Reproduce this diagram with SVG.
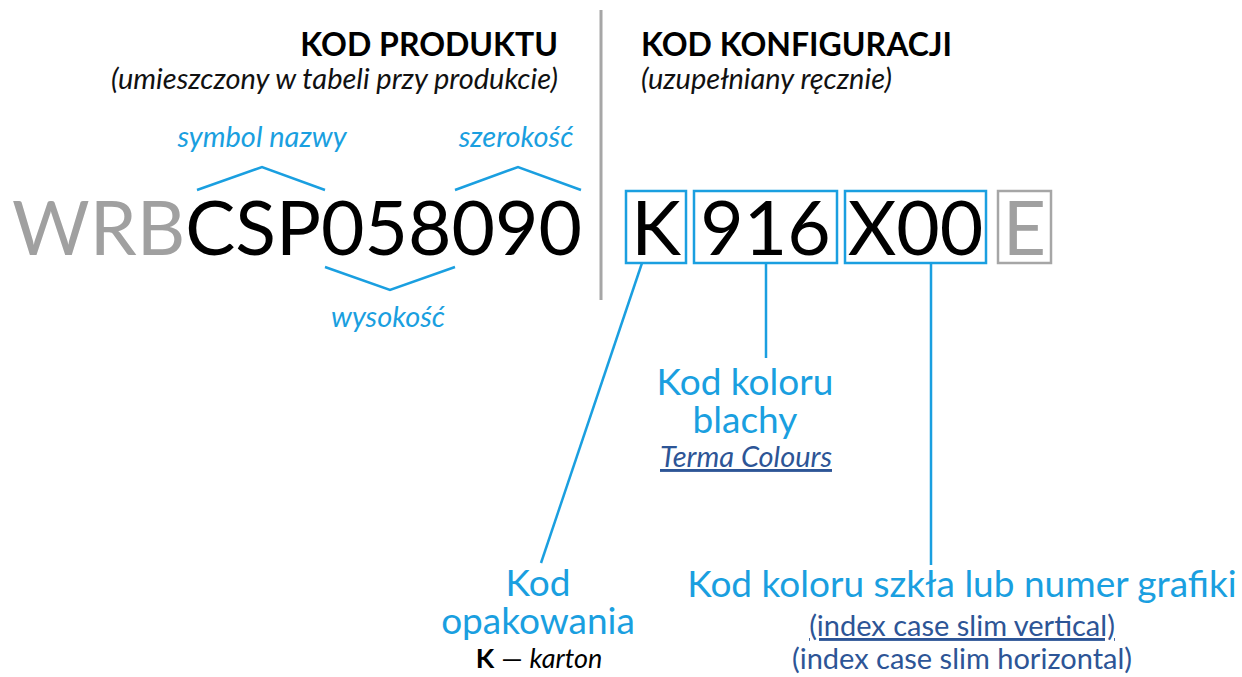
<svg xmlns="http://www.w3.org/2000/svg" width="1242" height="677" viewBox="0 0 1242 677">
<style>
text{font-family:Lato,"Open Sans","Liberation Sans",sans-serif}
.h{font-weight:700;font-size:32px;fill:#000}
.sub{font-style:italic;font-size:29px;fill:#111}
.lbl{font-style:italic;font-size:29px;fill:#1a9fe0}
.big{font-size:75px;font-weight:400}
.blue{fill:#1a9fe0;font-size:37px}
.dark{fill:#2d5596;font-size:29px}
.ln{stroke:#1a9fe0;stroke-width:2.5;fill:none}
.box{stroke:#1a9fe0;stroke-width:2.5;fill:none}
</style>
<rect width="1242" height="677" fill="#fff"/>
<line x1="601" y1="10" x2="601" y2="300" stroke="#a6a6a6" stroke-width="3"/>
<g id="header-left">
<text class="h" x="558" y="56" text-anchor="end">KOD PRODUKTU</text>
<text class="sub" x="558" y="89" text-anchor="end">(umieszczony w tabeli przy produkcie)</text>
</g>
<g id="header-right">
<text class="h" x="641" y="56">KOD KONFIGURACJI</text>
<text class="sub" x="641" y="89">(uzupełniany ręcznie)</text>
</g>
<g id="product-code">
<text class="big" x="12" y="255"><tspan fill="#a0a0a0">WRB</tspan><tspan fill="#000">CSP058090</tspan></text>
<polyline class="ln" points="197,190 262,167 325,190"/>
<polyline class="ln" points="455,190 518,167 581,190"/>
<polyline class="ln" points="325,267 390,290 455,267"/>
<text class="lbl" x="262" y="147" text-anchor="middle">symbol nazwy</text>
<text class="lbl" x="516" y="147" text-anchor="middle">szerokość</text>
<text class="lbl" x="388" y="327" text-anchor="middle">wysokość</text>
</g>
<g id="box-k">
<rect class="box" x="626" y="191" width="60" height="72"/>
<text class="big" x="656" y="255" text-anchor="middle" fill="#000">K</text>
</g>
<g id="box-916">
<rect class="box" x="694" y="191" width="143" height="72"/>
<text class="big" x="765.5" y="255" text-anchor="middle" fill="#000">916</text>
</g>
<g id="box-x00">
<rect class="box" x="845" y="191" width="141" height="72"/>
<text class="big" x="915.5" y="255" text-anchor="middle" fill="#000">X00</text>
</g>
<g id="box-e">
<rect x="998" y="191" width="53" height="72" fill="none" stroke="#a6a6a6" stroke-width="2.5"/>
<text class="big" x="1024.5" y="255" text-anchor="middle" fill="#a0a0a0">E</text>
</g>
<g id="connectors">
<line class="ln" x1="642" y1="263" x2="541" y2="563"/>
<line class="ln" x1="766" y1="263" x2="766" y2="358"/>
<line class="ln" x1="931" y1="263" x2="931" y2="565"/>
</g>
<g id="label-blacha">
<text class="blue" text-anchor="middle"><tspan x="745" y="395">Kod koloru</tspan><tspan x="745" y="433">blachy</tspan></text>
<text class="dark" x="746" y="467" text-anchor="middle" font-style="italic" text-decoration="underline">Terma Colours</text>
</g>
<g id="label-opakowanie">
<text class="blue" text-anchor="middle"><tspan x="538" y="596">Kod</tspan><tspan x="538" y="634">opakowania</tspan></text>
<text x="539" y="668" text-anchor="middle" font-size="27" fill="#000"><tspan font-weight="700">K</tspan> — <tspan font-style="italic">karton</tspan></text>
</g>
<g id="label-szklo">
<text class="blue" x="962" y="597" text-anchor="middle">Kod koloru szkła lub numer grafiki</text>
<text class="dark" x="962" y="636" text-anchor="middle" text-decoration="underline">(index case slim vertical)</text>
<text class="dark" x="962" y="669" text-anchor="middle">(index case slim horizontal)</text>
</g>
</svg>
